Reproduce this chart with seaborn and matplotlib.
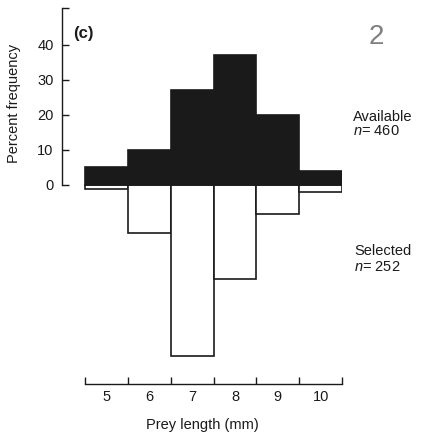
import numpy as np
import pandas as pd
import matplotlib
matplotlib.use("Agg")
import matplotlib.pyplot as plt
import seaborn as sns

# ---- data ----
sizes = ["5", "6", "7", "8", "9", "10"]
available = [5, 10, 27, 37, 20, 4]
selected = [1.2, 14, 49, 27, 8.5, 2]
y_ticks = [0, 10, 20, 30, 40]
y_ticklabels = ["0", "10", "20", "30", "40"]

sns.set_theme(style="white")
plt.rcParams["font.family"] = ["Liberation Sans", "DejaVu Sans"]
plt.rcParams["mathtext.fontset"] = "custom"
plt.rcParams["mathtext.rm"] = "Liberation Sans"
plt.rcParams["mathtext.it"] = "Liberation Sans:italic"

ink = "#1a1a1a"
df = pd.DataFrame({"size": sizes, "available": available,
                   "selected": -np.array(selected)})

fig = plt.figure(figsize=(4.25, 4.33), dpi=100)
ax = fig.add_axes([62/425, 1-387/433, 280/425, 380.5/433])

sns.barplot(data=df, x="size", y="selected", order=sizes, width=1.0,
            color="white", edgecolor=ink, linewidth=1.2, saturation=1, ax=ax)
sns.barplot(data=df, x="size", y="available", order=sizes, width=1.0,
            color=ink, edgecolor=ink, linewidth=1.2, saturation=1, ax=ax)

ax.set_xlim(-1.04, 5.5)
ax.set_ylim(-58, 51)

for s in ["top", "right"]:
    ax.spines[s].set_visible(False)
ax.spines["left"].set_bounds(0, 50.7)
ax.spines["left"].set_color(ink)
ax.spines["left"].set_linewidth(1.0)
ax.spines["bottom"].set_position(("data", -57))
ax.spines["bottom"].set_bounds(-0.5, 5.5)
ax.spines["bottom"].set_color(ink)
ax.spines["bottom"].set_linewidth(1.0)

# y ticks
ax.set_yticks(y_ticks + [50.7])
ax.set_yticklabels(y_ticklabels + [""])
ax.tick_params(axis="y", direction="in", length=5, width=1.0, color=ink,
               labelsize=10.5, labelcolor=ink, pad=6, left=True)

# x ticks: edges as major, labels at centres as minor
edges = np.arange(len(sizes) + 1) - 0.5
ax.set_xticks(edges)
ax.set_xticklabels([""] * len(edges))
ax.set_xticks(np.arange(len(sizes)), minor=True)
ax.set_xticklabels(sizes, minor=True)
ax.tick_params(axis="x", which="major", direction="in", length=5, width=1.0,
               color=ink, bottom=True)
ax.tick_params(axis="x", which="minor", length=0, labelsize=10.5,
               labelcolor=ink, pad=5, bottom=True)

ax.set_xlabel("Prey length (mm)", fontsize=10.5, color=ink, labelpad=10)
ax.set_ylabel("Percent frequency", fontsize=10.5, color=ink)
ax.yaxis.set_label_coords(-0.145, 0.745)

ax.text(0.038, 0.93, "(c)", transform=ax.transAxes, fontsize=12,
        fontweight="bold", color=ink, va="center", ha="left")

fig.text(376/425, 1-37/433, "2", fontsize=20, color="#808080",
         ha="center", va="center")
fig.text(353/425, 1-117/433, "Available", fontsize=10.5, color=ink,
         ha="left", va="center")
fig.text(353/425, 1-131/433, r"$n$= 460", fontsize=10.5, color=ink,
         ha="left", va="center")
fig.text(354/425, 1-251/433, "Selected", fontsize=10.5, color=ink,
         ha="left", va="center")
fig.text(354/425, 1-267/433, r"$n$= 252", fontsize=10.5, color=ink,
         ha="left", va="center")

fig.savefig("out.png", dpi=100)
